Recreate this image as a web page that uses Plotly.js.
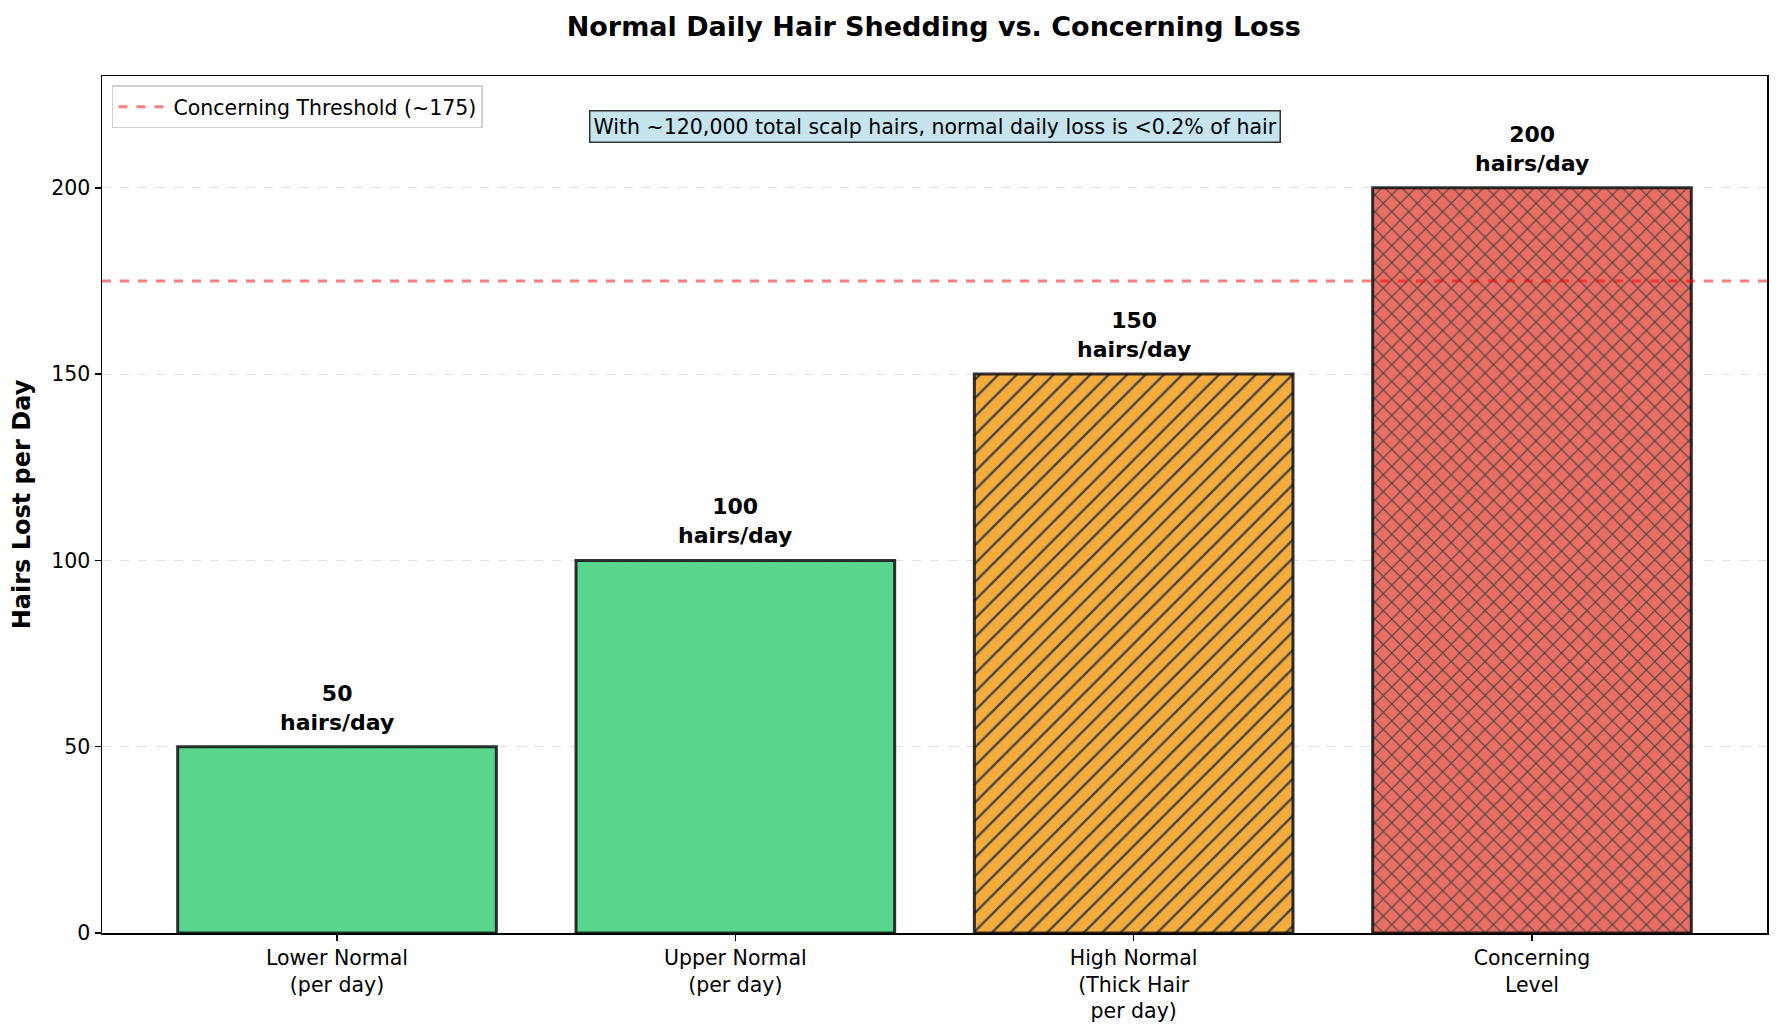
<!DOCTYPE html>
<html>
<head>
<meta charset="utf-8">
<script src="https://cdn.plot.ly/plotly-3.0.1.min.js"></script>
<style>html,body{margin:0;padding:0;background:#fff;}#chart{width:1782px;height:1030px;}</style>
</head>
<body>
<div id="chart"></div>
<script>
// ---- data ----
const categories = ["Lower Normal<br>(per day)", "Upper Normal<br>(per day)", "High Normal<br>(Thick Hair<br>per day)", "Concerning<br>Level"];
const hairsPerDay = [50, 100, 150, 200];
const barLabels = ["50<br>hairs/day", "100<br>hairs/day", "150<br>hairs/day", "200<br>hairs/day"];
const threshold = 175;
const thresholdName = "Concerning Threshold (~175)";
const yTicks = [0, 50, 100, 150, 200];
const noteText = "With ~120,000 total scalp hairs, normal daily loss is <0.2% of hair";
const titleText = "Normal Daily Hair Shedding vs. Concerning Loss";
const yTitle = "Hairs Lost per Day";

// ---- styles ----
const barColors = ["rgb(88,214,141)", "rgb(88,214,141)", "rgb(244,172,60)", "rgb(234,110,98)"];
const hatchShapes = ["", "", "/", "x"];
const hatchSizes = [13, 13, 13, 12];
const FONT = "DejaVu Sans, Liberation Sans, sans-serif";

const trace = {
  type: "bar",
  x: categories,
  y: hairsPerDay,
  width: 0.8,
  showlegend: false,
  hoverinfo: "skip",
  marker: {
    color: barColors,
    line: {color: "rgba(20,20,20,0.88)", width: 3},
    pattern: {
      shape: hatchShapes,
      fgcolor: "#140a0a",
      fgopacity: 1,
      size: hatchSizes,
      solidity: 0.18,
      fillmode: "overlay"
    }
  }
};

const annotations = categories.map((c, i) => ({
  x: c, y: hairsPerDay[i], xref: "x", yref: "y",
  text: "<b>" + barLabels[i] + "</b>",
  showarrow: false, yanchor: "bottom", yshift: 10,
  font: {family: FONT, size: 22, color: "#000"}
}));
annotations.push({
  x: 0.5, y: 0.9405, xref: "paper", yref: "paper",
  text: noteText, showarrow: false, xanchor: "center", yanchor: "middle",
  font: {family: FONT, size: 20.5, color: "#000"},
  bgcolor: "rgba(173,216,230,0.7)", bordercolor: "#333", borderwidth: 1.5, borderpad: 3
});

const layout = {
  width: 1782, height: 1030,
  paper_bgcolor: "#fff", plot_bgcolor: "#fff",
  margin: {l: 102, r: 15, t: 76, b: 97},
  font: {family: FONT, size: 20, color: "#000"},
  title: {
    text: "<b>" + titleText + "</b>",
    x: 0.524, xanchor: "center", y: 0.974, yanchor: "middle", yref: "container",
    font: {family: FONT, size: 27, color: "#000"}
  },
  xaxis: {
    type: "category",
    range: [-0.59, 3.59],
    showline: true, mirror: true, linecolor: "#000", linewidth: 1.5,
    ticks: "outside", ticklen: 6, tickwidth: 1.5, tickcolor: "#000",
    showgrid: false, zeroline: false,
    tickfont: {family: FONT, size: 20.5, color: "#000"}
  },
  yaxis: {
    range: [0, 230],
    tickvals: yTicks,
    showline: true, mirror: true, linecolor: "#000", linewidth: 1.5,
    ticks: "outside", ticklen: 6, tickwidth: 1.5, tickcolor: "#000",
    showgrid: true, gridcolor: "#e2e2e2", griddash: "dash", gridwidth: 1,
    zeroline: false,
    tickfont: {family: FONT, size: 20.5, color: "#000"},
    title: {text: "<b>" + yTitle + "</b>", font: {family: FONT, size: 24, color: "#000"}, standoff: 14}
  },
  shapes: [{
    type: "line", xref: "paper", x0: 0, x1: 1, yref: "y", y0: threshold, y1: threshold,
    line: {color: "rgba(255,0,0,0.5)", width: 3, dash: "dash"},
    layer: "above",
    showlegend: true, name: thresholdName
  }],
  showlegend: true,
  legend: {
    x: 0.006, y: 0.989, xanchor: "left", yanchor: "top",
    itemwidth: 50,
    bgcolor: "rgba(255,255,255,0.8)", bordercolor: "#d0d0d0", borderwidth: 1.5,
    font: {family: FONT, size: 20.5, color: "#000"}
  },
  annotations: annotations,
  bargap: 0.2
};

Plotly.newPlot("chart", [trace], layout, {displayModeBar: false, staticPlot: true});
</script>
</body>
</html>
